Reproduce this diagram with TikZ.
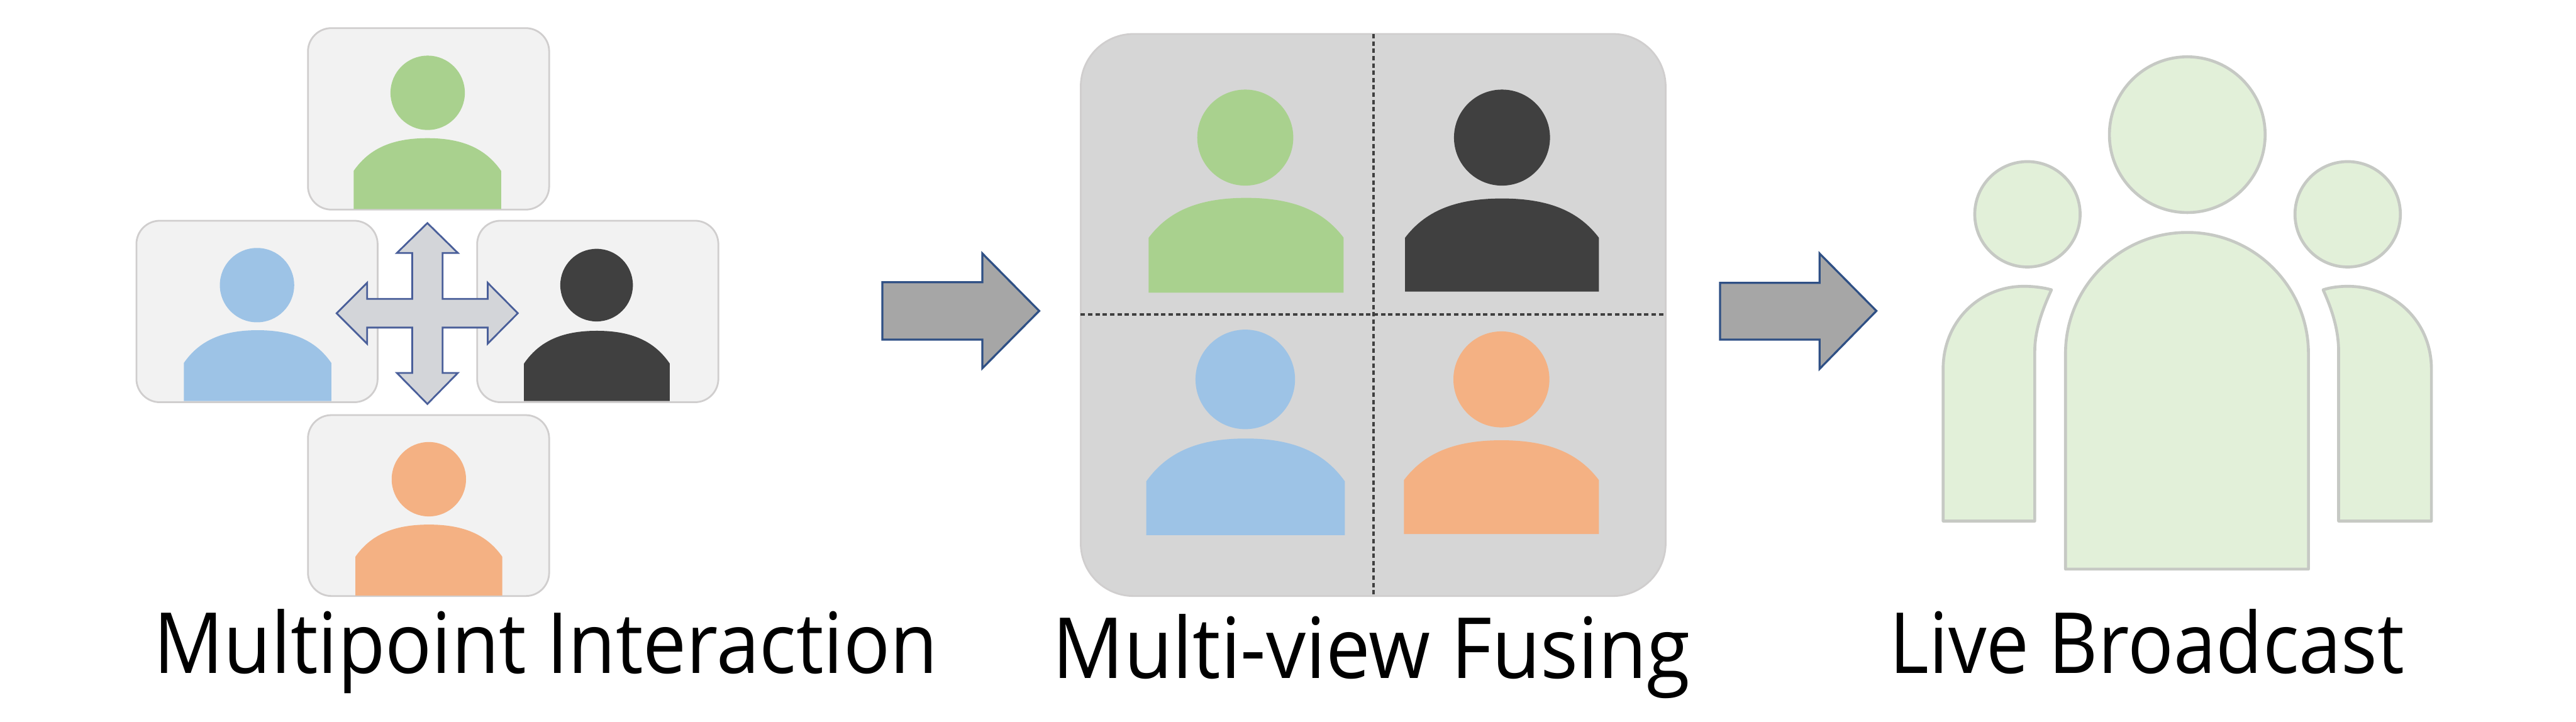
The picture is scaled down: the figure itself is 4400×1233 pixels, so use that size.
\documentclass[tikz,border=0pt]{standalone}
\usepackage{fontspec}
\setmainfont[FakeStretch=0.93]{Open Sans}
\definecolor{cgreen}{HTML}{A9D18E}
\definecolor{cblue}{HTML}{9DC3E6}
\definecolor{cblack}{HTML}{404040}
\definecolor{corange}{HTML}{F4B183}
\definecolor{cpanel}{HTML}{F2F2F2}
\definecolor{cpanelline}{HTML}{D0CECE}
\definecolor{cbig}{HTML}{D6D6D6}
\definecolor{carrow}{HTML}{A6A6A6}
\definecolor{carrowline}{HTML}{2F5085}
\definecolor{ccross}{HTML}{D3D5D9}
\definecolor{ccrossline}{HTML}{4A5F9A}
\definecolor{clive}{HTML}{E2F0D9}
\definecolor{cliveline}{HTML}{C6C9C4}
\tikzset{
  panel/.style={fill=cpanel,draw=cpanelline,line width=0.3mm,rounded corners=4mm},
  bigpanel/.style={fill=cbig,draw=cpanelline,line width=0.3mm,rounded corners=9mm},
  divider/.style={draw=cblack,line width=0.4mm,dash pattern=on 0.75mm off 0.5mm},
  flow/.style={fill=carrow,draw=carrowline,line width=0.35mm,line join=miter},
  cross/.style={fill=ccross,draw=ccrossline,line width=0.3mm,line join=miter},
  live/.style={fill=clive,draw=cliveline,line width=0.5mm,line join=round},
  caption/.style={anchor=base west,font=\fontsize{41pt}{49pt}\selectfont,inner sep=0pt,text=black}
}
% #1 colour, #2 x-left, #3 x-right, #4 top, #5 shoulder, #6 bottom, #7 head cx, #8 head cy, #9 head r
\newcommand{\personshape}[9]{%
  \pgfmathsetmacro{\cxm}{(#2+#3)/2}%
  \pgfmathsetmacro{\wdm}{#3-#2}%
  \pgfmathsetmacro{\hdm}{#5-#4}%
  \fill[#1] (#2,#6) -- (#2,#5)
    .. controls ({#2+0.10*\wdm},{#4+0.35*\hdm}) and ({\cxm-0.25*\wdm},#4) .. (\cxm,#4)
    .. controls ({\cxm+0.25*\wdm},#4) and ({#3-0.10*\wdm},{#4+0.35*\hdm}) .. (#3,#5)
    -- (#3,#6) -- cycle;
  \fill[#1] (#7,#8) circle[radius=#9];%
}
\begin{document}
\begin{tikzpicture}[x=0.1mm,y=-0.1mm]
\useasboundingbox (0,0) rectangle (4400,1233);
% left group panels
\draw[panel] (526,48) rectangle (938,358);
\draw[panel] (233,377) rectangle (645,687);
\draw[panel] (815,377) rectangle (1227,687);
\draw[panel] (526,709) rectangle (938,1018);
\personshape{cgreen}{604}{856}{236}{292}{357}{730.5}{158.5}{63.5}
\personshape{cblue}{314}{566}{564}{620}{685}{439}{487}{63.5}
\personshape{cblack}{895}{1144}{565}{621}{685}{1019}{487}{62}
\personshape{corange}{607}{858}{896}{951}{1017}{732.5}{818.5}{63.5}
% cross arrow
\draw[cross] (730,381) -- (782,432) -- (756,432) -- (756,510.5) -- (833,510.5) -- (833,483) -- (884.5,535)
  -- (833,587) -- (833,559.5) -- (756,559.5) -- (756,637) -- (782,637) -- (730,690) -- (678,637) -- (704,637)
  -- (704,559.5) -- (627,559.5) -- (627,587) -- (575,535) -- (627,483) -- (627,510.5) -- (704,510.5) -- (704,432) -- (678,432) -- cycle;
% flow arrow 1
\draw[flow] (1507,482) -- (1678,482) -- (1678,433) -- (1775,531) -- (1678,629) -- (1678,580) -- (1507,580) -- cycle;
% middle panel
\draw[bigpanel] (1846,58) rectangle (2845,1018);
\personshape{cgreen}{1962}{2295}{338}{406}{500}{2127}{235}{82}
\personshape{cblack}{2400}{2731}{339}{406}{498}{2565.5}{235}{82}
\personshape{cblue}{1958}{2297}{749}{822}{914}{2127}{648}{85}
\personshape{corange}{2398}{2731}{752}{820}{912}{2564.5}{648}{82}
\draw[divider] (2346,58) -- (2346,1018);
\draw[divider] (1846,537) -- (2845,537);
% flow arrow 2
\draw[flow] (2938,483) -- (3108,483) -- (3108,433) -- (3205,531) -- (3108,630) -- (3108,580) -- (2938,580) -- cycle;
% audience
\draw[live] (3736,230) circle[radius=133];
\draw[live] (3463,366) circle[radius=90];
\draw[live] (4010,366) circle[radius=90];
\draw[live] (3528,972) -- (3528,604) .. controls (3528,490) and (3621,397) .. (3736,397)
  .. controls (3851,397) and (3943,490) .. (3943,604) -- (3943,972) -- cycle;
\draw[live] (3319,890) -- (3319,630) .. controls (3319,550) and (3380,489) .. (3457,489)
  .. controls (3473,489) and (3490,491) .. (3504,495)
  .. controls (3488,530) and (3475.5,565) .. (3475.5,600) -- (3475.5,890) -- cycle;
\draw[live] (4153,890) -- (4153,630) .. controls (4153,550) and (4090,489) .. (4010,489)
  .. controls (3995,489) and (3980,491) .. (3968,495)
  .. controls (3984,530) and (3994.5,565) .. (3994.5,600) -- (3994.5,890) -- cycle;
% captions
\node[caption] (capA) at (262,1150) {\scalebox{0.987}[1]{Multipoint Interaction}};
\node[caption] (capB) at (1797,1158) {\scalebox{1.01}[1]{Multi-view Fusing}};
\node[caption] (capC) at (3227,1150) {\scalebox{0.97}[1]{Live Broadcast}};
\end{tikzpicture}
\end{document}
